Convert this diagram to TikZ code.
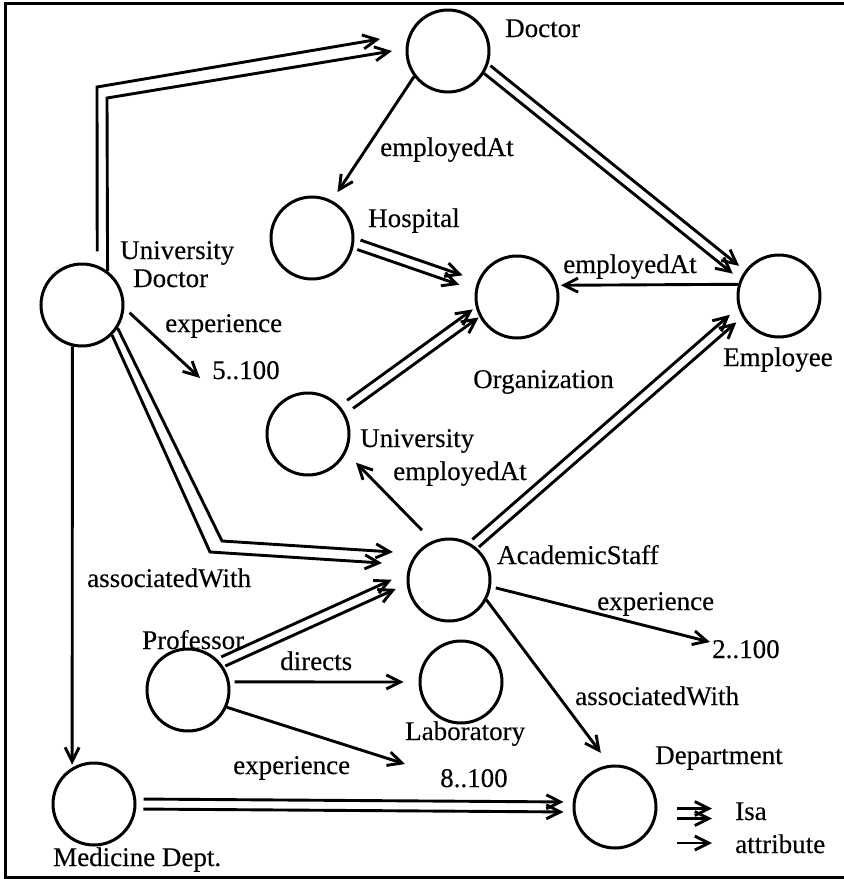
\documentclass[tikz,border=0pt]{standalone}
\usepackage{fontspec}
\setmainfont{Liberation Serif}[FakeBold=0.25]
\usetikzlibrary{arrows.meta,calc}
\tikzset{
  cls/.style={circle,draw,line width=3pt,minimum size=82pt,inner sep=0pt},
  lbl/.style={font=\fontsize{27}{30}\selectfont,inner sep=0pt,anchor=base west},
  attr/.style={line width=2.9pt,-{Straight Barb[length=14pt,width=14pt]}},
  frame/.style={line width=3pt},
}
% Isa link: two parallel arrows, 5pt either side of the line from #1 to #2
\newcommand\isapair[4]{%
  \draw[attr,shorten <=#3,shorten >=#4] ($#1!5pt!90:#2$) -- ($#2!5pt!-90:#1$);
  \draw[attr,shorten <=#3,shorten >=#4] ($#1!5pt!-90:#2$) -- ($#2!5pt!90:#1$);}
\begin{document}
\begin{tikzpicture}[x=1pt,y=-1pt]
\useasboundingbox (0,0) rectangle (844,879);
\draw[frame] (844,3) -- (5.5,3) -- (5.5,877) -- (844,877);

% classes
\node[cls] (doc)  at (448,51)  {};
\node[cls] (hosp) at (312,238) {};
\node[cls] (ud)   at (82,305)  {};
\node[cls] (org)  at (517,297) {};
\node[cls] (emp)  at (779,296) {};
\node[cls] (univ) at (308,434) {};
\node[cls] (acad) at (449,580) {};
\node[cls] (prof) at (188,690) {};
\node[cls] (lab)  at (461,682) {};
\node[cls] (med)  at (94,804)  {};
\node[cls] (dept) at (615,807) {};

% class names
\node[lbl] (nDoc)  at (505,37)  {Doctor};
\node[lbl] (nHosp) at (368,227) {Hospital};
\node[lbl] (nUD1)  at (120,259) {University};
\node[lbl] (nUD2)  at (133,287) {Doctor};
\node[lbl] (nOrg)  at (473,388) {Organization};
\node[lbl] (nEmp)  at (723,366) {Employee};
\node[lbl] (nUniv) at (360,447) {University};
\node[lbl] (nAcad) at (497,564) {AcademicStaff};
\node[lbl] (nProf) at (142,649) {Professor};
\node[lbl] (nLab)  at (405,740) {Laboratory};
\node[lbl] (nMed)  at (53,866)  {Medicine Dept.};
\node[lbl] (nDept) at (655,764) {Department};

% attribute names and value ranges
\node[lbl] (eA) at (380,156) {employedAt};
\node[lbl] (eB) at (563,273) {employedAt};
\node[lbl] (eC) at (393,480) {employedAt};
\node[lbl] (xA) at (165,332) {experience};
\node[lbl] (xB) at (597,610) {experience};
\node[lbl] (xC) at (233,774) {experience};
\node[lbl] (vA) at (212,379) {5..100};
\node[lbl] (vB) at (712,658) {2..100};
\node[lbl] (vC) at (440,787) {8..100};
\node[lbl] (sA) at (87,587)  {associatedWith};
\node[lbl] (sB) at (575,705) {associatedWith};
\node[lbl] (dA) at (280,670) {directs};

% legend
\node[lbl] (kIsa)  at (735,820) {Isa};
\node[lbl] (kAttr) at (735,853) {attribute};

% free ends and bends
\coordinate (ub1) at (97,87);
\coordinate (ub2) at (107,98);
\coordinate (ut1) at ($(doc)+(-68,-12)$);
\coordinate (ut2) at ($(doc)+(-56,0)$);
\coordinate (ab1) at (210,552);
\coordinate (ab2) at (222,541);
\coordinate (at1) at ($(acad)+(-67,-17)$);
\coordinate (at2) at ($(acad)+(-56,-28)$);
\coordinate (tA) at ($(vA.base west)+(-12,-1)$);
\coordinate (tB) at ($(vB.base west)+(-2,-16)$);
\coordinate (tC) at ($(vC.base west)+(-35,-23)$);
\coordinate (k1) at ($(kIsa.base west)+(-58,-6.5)$);
\coordinate (k2) at ($(kIsa.base west)+(-23,-6.5)$);
\coordinate (k3) at ($(kAttr.base west)+(-58,-10)$);
\coordinate (k4) at ($(kAttr.base west)+(-23,-10)$);

% Isa links
\draw[attr] ([yshift=14pt]ud.69) -- (ub1) -- (ut1);
\draw[attr] (ud.53) -- (ub2) -- (ut2);
\draw[attr] (ud.-45) -- (ab1) -- (at1);
\draw[attr] (ud.-33) -- (ab2) -- (at2);
\isapair{(doc.-25)}{(emp.150)}{1pt}{8pt}
\isapair{(hosp.-7)}{(org.164)}{5pt}{16pt}
\isapair{(univ.35)}{(org.201)}{9pt}{2pt}
\isapair{(acad.55)}{(emp.203)}{3pt}{9pt}
\isapair{(prof.40)}{(acad.178)}{3pt}{14pt}
\isapair{(med.east)}{(dept.west)}{7pt}{9pt}
\isapair{(k1)}{(k2)}{0pt}{0pt}

% attribute links
\draw[attr,shorten >=10pt] (doc.217) -- (hosp.62);
\draw[attr,shorten >=3pt] (emp.164) -- (org.16);
\draw[attr,shorten <=7pt] (ud.-4) -- (tA);
\draw[attr,shorten >=3pt] (ud.-103) -- (med.121);
\draw[attr,shorten <=15pt,shorten >=14pt] (acad.113) -- (univ.-26);
\draw[attr,shorten <=5pt] (acad.-9) -- (tB);
\draw[attr,shorten >=15pt] (acad.-28) -- (dept.97);
\draw[attr,shorten <=5pt,shorten >=15pt] (prof.11) -- (lab.west);
\draw[attr] (prof.-24) -- (tC);
\draw[attr] (k3) -- (k4);
\end{tikzpicture}
\end{document}
